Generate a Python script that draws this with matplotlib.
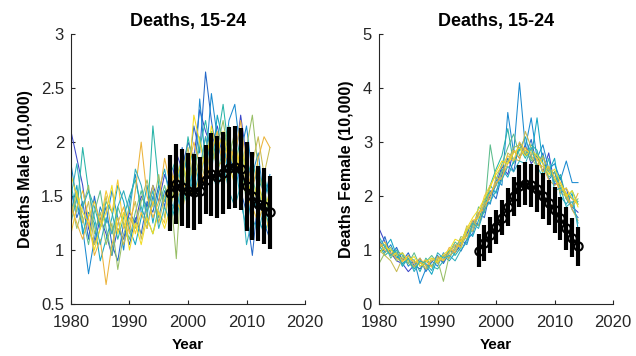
import numpy as np
import matplotlib.pyplot as plt

plt.rcParams['font.family'] = ['Liberation Sans', 'DejaVu Sans']

years = np.arange(1980, 2015)

# sampled death series, male 15-24 (units of 10,000)
male_runs = [
    [2.10, 1.85, 1.60, 1.20, 1.05, 1.30, 1.15, 0.95, 1.20, 1.10, 1.35, 1.25, 1.50, 1.40, 1.60, 1.45, 1.70, 1.55,
     1.90, 1.75, 2.00, 1.85, 2.30, 2.10, 1.95, 2.15, 1.90, 2.05, 1.80, 2.25, 1.85, 1.60, 1.75, 1.50, 1.65],
    [1.55, 1.30, 1.45, 1.10, 1.50, 1.20, 1.40, 1.05, 0.90, 1.25, 1.05, 1.30, 1.15, 1.45, 1.35, 1.60, 1.40, 1.75,
     1.50, 1.95, 1.70, 2.15, 1.90, 2.65, 2.20, 1.85, 2.05, 1.70, 1.95, 1.55, 1.35, 0.95, 1.50, 1.25, 1.10],
    [1.80, 1.45, 1.20, 0.78, 1.10, 1.40, 1.25, 1.55, 1.30, 1.00, 1.45, 1.70, 1.35, 1.20, 1.50, 1.30, 1.55, 1.45,
     1.35, 1.65, 1.90, 1.55, 2.40, 1.80, 2.45, 2.05, 1.75, 2.20, 2.35, 1.90, 2.15, 1.70, 1.90, 1.45, 1.70],
    [1.35, 1.60, 1.15, 1.35, 1.25, 0.90, 1.10, 1.30, 1.60, 1.45, 1.20, 1.05, 1.30, 1.60, 1.25, 1.55, 1.75, 1.45,
     1.25, 1.60, 1.40, 1.85, 1.60, 1.95, 1.70, 2.25, 2.00, 1.65, 1.85, 1.45, 1.20, 1.55, 1.30, 1.15, 1.30],
    [1.60, 1.35, 1.95, 1.55, 1.40, 1.20, 1.45, 1.35, 1.10, 1.30, 1.50, 1.65, 1.40, 1.25, 2.15, 1.60, 1.45, 1.70,
     1.85, 1.55, 2.05, 1.75, 1.95, 2.20, 1.85, 2.00, 2.35, 1.90, 1.75, 2.05, 1.65, 1.85, 1.55, 1.70, 1.45],
    [1.25, 1.50, 1.30, 1.05, 1.35, 1.55, 1.20, 0.95, 1.40, 1.25, 1.10, 1.35, 1.55, 1.30, 1.15, 1.40, 1.60, 1.35,
     1.75, 1.50, 1.80, 1.65, 2.05, 1.75, 2.10, 1.70, 1.95, 2.15, 1.65, 1.80, 1.45, 1.70, 1.40, 1.60, 1.25],
    [1.45, 1.20, 1.40, 1.60, 1.15, 1.35, 1.05, 1.25, 0.82, 1.15, 1.30, 1.20, 1.45, 1.65, 1.40, 1.70, 1.30, 1.55,
     0.92, 1.80, 1.55, 1.90, 1.70, 2.05, 1.80, 1.95, 2.20, 1.85, 2.10, 1.60, 1.95, 2.25, 1.75, 1.50, 1.35],
    [1.30, 1.55, 1.25, 1.45, 1.05, 1.20, 1.50, 1.15, 1.30, 1.05, 1.25, 1.45, 1.10, 1.35, 1.60, 1.25, 1.50, 1.65,
     1.40, 1.70, 1.95, 1.60, 1.85, 1.65, 2.00, 1.75, 1.85, 2.00, 1.70, 1.90, 1.60, 1.80, 2.05, 1.70, 1.95],
    [1.40, 1.25, 1.10, 1.30, 0.95, 1.10, 0.68, 1.05, 1.25, 1.40, 1.15, 1.55, 2.00, 1.50, 1.30, 1.45, 1.85, 1.60,
     1.75, 1.50, 1.75, 2.00, 1.80, 1.55, 1.90, 2.10, 1.75, 1.95, 1.85, 2.20, 1.75, 1.55, 1.85, 2.05, 1.95],
    [1.15, 1.40, 1.55, 1.30, 1.45, 1.25, 1.55, 1.35, 1.65, 1.20, 1.40, 1.15, 1.35, 1.20, 1.45, 1.35, 1.25, 1.80,
     1.45, 1.35, 1.65, 1.45, 1.70, 1.90, 1.60, 1.80, 1.60, 1.75, 2.00, 1.70, 1.50, 1.40, 1.25, 1.45, 1.10],
    [1.70, 1.50, 1.35, 1.25, 1.00, 1.20, 1.35, 1.60, 1.15, 1.35, 1.00, 1.25, 1.05, 1.30, 1.15, 1.35, 1.20, 1.40,
     1.65, 1.85, 1.60, 2.25, 2.00, 1.75, 2.15, 1.90, 2.10, 1.80, 1.60, 2.00, 1.70, 1.45, 1.65, 1.35, 1.55],
    [1.50, 1.80, 1.40, 1.55, 1.30, 1.05, 1.30, 1.15, 1.40, 1.55, 1.35, 1.75, 1.60, 1.35, 1.55, 1.20, 1.40, 1.25,
     1.55, 1.35, 1.75, 1.50, 1.75, 2.05, 1.75, 1.55, 1.80, 1.55, 1.40, 1.60, 1.05, 1.30, 1.15, 1.40, 1.20],
]

# sampled death series, female 15-24 (units of 10,000)
female_runs = [
    [1.40, 1.15, 0.95, 0.80, 0.75, 0.60, 0.72, 0.65, 0.80, 0.70, 0.85, 0.78, 1.00, 0.95, 1.10, 1.30, 1.55, 1.45,
     1.80, 2.00, 2.20, 2.55, 2.40, 2.85, 2.70, 2.95, 2.60, 2.75, 2.45, 2.80, 2.20, 2.35, 1.95, 1.80, 1.70],
    [1.00, 1.25, 0.90, 1.05, 0.80, 0.95, 0.70, 0.85, 0.60, 0.78, 0.90, 0.75, 0.95, 1.10, 0.98, 1.20, 1.30, 1.70,
     1.60, 2.10, 1.95, 2.40, 2.70, 2.45, 3.00, 2.75, 3.05, 2.55, 2.80, 2.30, 2.45, 2.05, 2.15, 1.75, 1.60],
    [1.20, 0.95, 1.10, 0.85, 0.95, 0.70, 0.82, 0.38, 0.65, 0.80, 0.70, 0.95, 0.85, 1.05, 1.20, 1.10, 1.45, 1.65,
     1.95, 1.85, 2.30, 2.20, 3.55, 2.80, 4.10, 2.90, 3.45, 2.70, 2.95, 2.50, 2.60, 2.30, 2.65, 2.25, 2.25],
    [0.95, 1.05, 1.20, 0.90, 0.75, 0.85, 0.65, 0.80, 0.72, 0.55, 0.85, 0.90, 0.80, 0.95, 1.15, 1.40, 1.25, 1.55,
     1.85, 2.20, 2.05, 2.50, 2.35, 2.65, 2.85, 3.10, 2.70, 3.45, 2.60, 2.45, 2.70, 2.00, 1.85, 2.05, 1.40],
    [1.10, 0.90, 1.00, 0.95, 0.70, 0.90, 0.80, 0.60, 0.85, 0.70, 0.65, 0.80, 1.00, 0.90, 1.05, 1.35, 1.50, 1.60,
     1.70, 2.20, 2.50, 2.75, 3.25, 2.60, 2.90, 2.70, 2.95, 2.85, 2.40, 2.55, 2.25, 2.40, 1.95, 2.10, 1.85],
    [1.05, 1.10, 0.85, 1.00, 0.90, 0.75, 0.95, 0.70, 0.78, 0.90, 0.75, 0.88, 0.95, 1.15, 1.05, 1.30, 1.35, 1.80,
     1.70, 2.95, 2.30, 2.60, 2.90, 3.15, 2.75, 2.85, 2.65, 2.80, 2.60, 2.35, 2.45, 2.15, 2.05, 1.95, 1.90],
    [0.75, 0.95, 1.05, 0.80, 0.88, 0.75, 0.68, 0.80, 0.65, 0.72, 0.82, 0.42, 0.90, 1.00, 1.25, 1.20, 1.50, 1.45,
     1.90, 2.05, 2.20, 2.45, 2.65, 2.90, 2.95, 2.80, 2.70, 2.55, 2.75, 2.45, 2.30, 2.20, 1.95, 1.80, 1.95],
    [1.00, 0.90, 0.80, 0.60, 0.85, 0.80, 0.70, 0.78, 0.65, 0.85, 0.75, 0.90, 0.85, 1.05, 1.10, 1.45, 1.35, 1.65,
     1.85, 1.95, 2.35, 2.30, 2.80, 2.70, 2.65, 3.20, 2.90, 2.65, 2.70, 2.50, 2.35, 2.05, 2.00, 1.75, 1.55],
    [1.15, 1.00, 0.95, 0.85, 0.78, 0.90, 0.75, 0.85, 0.70, 0.80, 0.88, 0.82, 1.05, 0.95, 1.20, 1.25, 1.45, 1.70,
     1.75, 2.05, 2.25, 2.35, 2.60, 2.85, 2.70, 2.90, 2.75, 2.60, 2.55, 2.30, 2.20, 2.25, 2.05, 1.80, 2.05],
    [1.05, 1.15, 0.90, 0.95, 0.80, 0.85, 0.80, 0.75, 0.82, 0.68, 0.85, 0.80, 0.95, 1.10, 1.05, 1.35, 1.55, 1.60,
     2.00, 2.20, 2.40, 2.55, 2.75, 2.65, 3.00, 2.85, 2.80, 2.70, 2.45, 2.55, 2.35, 2.10, 2.15, 1.95, 1.85],
    [0.95, 1.05, 1.00, 0.90, 0.95, 0.80, 0.88, 0.70, 0.78, 0.85, 0.78, 0.92, 1.00, 1.20, 1.15, 1.40, 1.60, 1.75,
     1.95, 2.15, 2.45, 2.65, 2.60, 2.80, 2.90, 2.75, 2.85, 2.75, 2.60, 2.40, 2.50, 2.25, 2.00, 2.10, 1.80],
    [1.25, 1.05, 0.90, 1.00, 0.70, 0.85, 0.60, 0.80, 0.75, 0.62, 0.95, 0.85, 0.90, 0.80, 1.00, 1.15, 1.50, 1.40,
     1.75, 1.90, 2.10, 2.30, 2.55, 2.45, 2.65, 2.60, 2.90, 2.55, 2.35, 2.70, 2.10, 2.15, 1.80, 1.90, 1.50],
]

# observed means and spread, 1997-2014
obs_years = np.arange(1997, 2015)
male_mean = [1.53, 1.61, 1.58, 1.55, 1.54, 1.55, 1.65, 1.70, 1.68, 1.71, 1.76, 1.77, 1.75, 1.59, 1.50, 1.43, 1.41, 1.35]
male_err = [0.35, 0.37, 0.36, 0.35, 0.35, 0.31, 0.32, 0.38, 0.38, 0.38, 0.38, 0.38, 0.38, 0.41, 0.41, 0.35, 0.35, 0.34]
female_mean = [0.99, 1.13, 1.28, 1.43, 1.60, 1.80, 2.00, 2.19, 2.23, 2.20, 2.14, 2.00, 1.88, 1.74, 1.59, 1.40, 1.23, 1.07]
female_err = [0.30, 0.33, 0.34, 0.31, 0.33, 0.35, 0.36, 0.39, 0.40, 0.40, 0.43, 0.42, 0.42, 0.43, 0.40, 0.40, 0.36, 0.36]

# parula-like line colours
parula = ['#3a45c8', '#2468c8', '#1a8ad0', '#14a6c4', '#28b4a8', '#5cbc8c',
          '#98bf66', '#c8bb52', '#ecb43c', '#f6c832', '#f2dc22', '#30aebc']

fig = plt.figure(figsize=(6.36, 3.56), dpi=100)
ax1 = fig.add_axes([0.1116, 0.146, 0.368, 0.758])
ax2 = fig.add_axes([0.596, 0.146, 0.368, 0.758])

panels = [
    (ax1, male_runs, male_mean, male_err, 'Deaths Male (10,000)', (0.5, 3), [0.5, 1, 1.5, 2, 2.5, 3]),
    (ax2, female_runs, female_mean, female_err, 'Deaths Female (10,000)', (0, 5), [0, 1, 2, 3, 4, 5]),
]

for ax, runs, mean, err, ylab, ylim, yt in panels:
    for i, run in enumerate(runs):
        ax.plot(years, run, color=parula[i % len(parula)], lw=0.75)
    ax.errorbar(obs_years, mean, yerr=err, color='black', lw=1.5, elinewidth=3,
                capsize=0, marker='o', ms=6, mfc='none', mec='black', mew=1.5)
    ax.set_xlim(1980, 2020)
    ax.set_ylim(*ylim)
    ax.set_xticks([1980, 1990, 2000, 2010, 2020])
    ax.set_yticks(yt)
    ax.set_yticklabels([f'{v:g}' for v in yt])
    ax.spines['top'].set_visible(False)
    ax.spines['right'].set_visible(False)
    for s in ('left', 'bottom'):
        ax.spines[s].set_color('#262626')
        ax.spines[s].set_linewidth(0.8)
    ax.tick_params(direction='in', length=3, width=0.8, colors='#262626', labelsize=12)
    ax.tick_params(axis='x', pad=8)
    ax.tick_params(axis='y', pad=5)
    ax.set_title('Deaths, 15-24', fontsize=13, fontweight='bold', pad=6)
    ax.set_ylabel(ylab, fontsize=11.5, fontweight='bold', labelpad=6)
    ax.set_xlabel('Year', fontsize=11, fontweight='bold', labelpad=6)

fig.savefig('out.png', dpi=100)
